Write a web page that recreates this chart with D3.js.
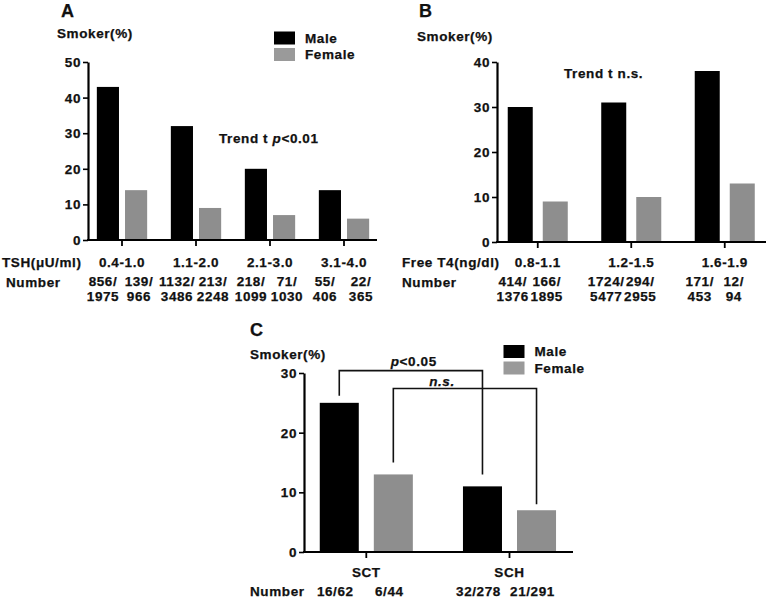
<!DOCTYPE html>
<html>
<head>
<meta charset="utf-8">
<script src="https://cdn.jsdelivr.net/npm/d3@7/dist/d3.min.js"></script>
<style>
  html, body { margin: 0; padding: 0; background: #fff; }
  svg { display: block; }
  text { font-family: "Liberation Sans", Arial, Helvetica, sans-serif; font-weight: bold; fill: #111; stroke: #111; stroke-width: 0.25px; }
</style>
</head>
<body>
<svg id="chart" width="768" height="599"></svg>
<script>
// ---------- DATA ----------
const series = ["Male", "Female"];
const seriesColors = ["#000000", "#8e8e8e"];

// Panel A
const catsA = ["0.4-1.0", "1.1-2.0", "2.1-3.0", "3.1-4.0"];
const maleA = [43, 32, 20, 14];
const femaleA = [14, 9, 7, 6];
const maleNumA = ["856/", "1132/", "218/", "55/"];
const maleDenA = ["1975", "3486", "1099", "406"];
const femaleNumA = ["139/", "213/", "71/", "22/"];
const femaleDenA = ["966", "2248", "1030", "365"];
const ticksA = [0, 10, 20, 30, 40, 50];

// Panel B
const catsB = ["0.8-1.1", "1.2-1.5", "1.6-1.9"];
const maleB = [30, 31, 38];
const femaleB = [9, 10, 13];
const maleNumB = ["414/", "1724/", "171/"];
const maleDenB = ["1376", "5477", "453"];
const femaleNumB = ["166/", "294/", "12/"];
const femaleDenB = ["1895", "2955", "94"];
const ticksB = [0, 10, 20, 30, 40];

// Panel C
const catsC = ["SCT", "SCH"];
const maleC = [25, 11];
const femaleC = [13, 7];
const maleNumC = ["16/62", "32/278"];
const femaleNumC = ["6/44", "21/291"];
const ticksC = [0, 10, 20, 30];

// ---------- DRAW ----------
const svg = d3.select("#chart");
const FS = 13.5;
const LS = "0.6px";

function txt(g, x, y, s, anchor, size, extra) {
  const t = g.append("text").attr("x", x).attr("y", y)
    .attr("text-anchor", anchor || "start")
    .attr("font-size", size || FS)
    .attr("letter-spacing", LS)
    .text(s);
  if (extra) extra(t);
  return t;
}

function panel(cfg) {
  const g = svg.append("g");
  const y = d3.scaleLinear().domain([0, cfg.yMax]).range([cfg.yBottom, cfg.yTop]);
  const x = d3.scaleBand().domain(cfg.cats).range(cfg.bandRange)
    .paddingInner(cfg.pad).paddingOuter(cfg.pad / 2);
  const xs = d3.scaleBand().domain(series).range([0, x.bandwidth()])
    .paddingInner(cfg.subPad).paddingOuter(0);

  // bars
  const rows = cfg.cats.map((c, i) => ({ cat: c, vals: [cfg.male[i], cfg.female[i]] }));
  const grp = g.selectAll("g.grp").data(rows).join("g")
    .attr("transform", d => `translate(${x(d.cat)},0)`);
  grp.selectAll("rect").data(d => d.vals.map((v, j) => ({ s: series[j], v, j }))).join("rect")
    .attr("x", d => xs(d.s))
    .attr("width", xs.bandwidth())
    .attr("y", d => y(d.v))
    .attr("height", d => y(0) - y(d.v))
    .attr("fill", d => seriesColors[d.j]);

  // y axis
  const yAxis = d3.axisLeft(y).tickValues(cfg.ticks).tickSize(5).tickPadding(2).tickSizeOuter(0);
  const ya = g.append("g").attr("transform", `translate(${cfg.axisX},0)`).call(yAxis);
  ya.select(".domain").attr("stroke", "#000").attr("stroke-width", 2.2);
  ya.selectAll(".tick line").attr("stroke", "#000").attr("stroke-width", 1.6);
  ya.selectAll(".tick text").attr("font-size", FS).attr("font-family", "Liberation Sans, Arial, sans-serif")
    .attr("font-weight", "bold").attr("fill", "#333").attr("stroke", "#333").attr("stroke-width", 0.2)
    .attr("letter-spacing", LS).attr("dy", "0.34em");

  // x axis
  const xl = d3.scaleLinear().domain([0, 1]).range([cfg.axisX, cfg.axisXEnd]);
  g.append("line").attr("x1", xl(0) - 1).attr("x2", xl(1)).attr("y1", y(0)).attr("y2", y(0))
    .attr("stroke", "#000").attr("stroke-width", 2.2);
  g.selectAll("line.xt").data(cfg.cats).join("line").attr("class", "xt")
    .attr("x1", d => x(d) + x.bandwidth() / 2).attr("x2", d => x(d) + x.bandwidth() / 2)
    .attr("y1", y(0)).attr("y2", y(0) + 6).attr("stroke", "#000").attr("stroke-width", 1.8);

  // category labels
  g.selectAll("text.cat").data(cfg.cats).join("text").attr("class", "cat")
    .attr("x", d => x(d) + x.bandwidth() / 2).attr("y", cfg.catY)
    .attr("text-anchor", "middle").attr("font-size", FS).attr("letter-spacing", LS).text(d => d);

  // number labels
  const cx = c => x(c) + x.bandwidth() / 2;
  cfg.cats.forEach((c, i) => {
    txt(g, cx(c) + cfg.mOff, cfg.numY, cfg.mNum[i], "middle");
    txt(g, cx(c) + cfg.fOff, cfg.numY, cfg.fNum[i], "middle");
    if (cfg.mDen) {
      txt(g, cx(c) + cfg.mOff, cfg.numY + 15, cfg.mDen[i], "middle");
      txt(g, cx(c) + cfg.fOff, cfg.numY + 15, cfg.fDen[i], "middle");
    }
  });
  return { g, x, xs, y };
}

// Panel A
const pA = panel({
  cats: catsA, male: maleA, female: femaleA, ticks: ticksA, yMax: 50,
  yBottom: 240, yTop: 62, axisX: 88, axisXEnd: 377,
  bandRange: [85, 381], pad: 0.32, subPad: 0.214,
  catY: 267, numY: 286, mOff: -19, fOff: 17,
  mNum: maleNumA, mDen: maleDenA, fNum: femaleNumA, fDen: femaleDenA
});
txt(svg, 61, 17, "A", "start", 18);
txt(svg, 57, 38, "Smoker(%)");
txt(svg, 2, 267, "TSH(μU/ml)");
txt(svg, 6, 287, "Number");
txt(svg, 219, 143, "Trend t ", "start", FS, t => {
  t.append("tspan").attr("font-style", "italic").text("p");
  t.append("tspan").text("<0.01");
});

// Panel B
const pB = panel({
  cats: catsB, male: maleB, female: femaleB, ticks: ticksB, yMax: 40,
  yBottom: 242, yTop: 62, axisX: 497, axisXEnd: 766,
  bandRange: [491, 771.5], pad: 0.358, subPad: 0.286,
  catY: 267, numY: 286, mOff: -25, fOff: 9,
  mNum: maleNumB, mDen: maleDenB, fNum: femaleNumB, fDen: femaleDenB
});
txt(svg, 419, 17, "B", "start", 18);
txt(svg, 417, 41, "Smoker(%)");
txt(svg, 402, 267, "Free T4(ng/dl)");
txt(svg, 402, 287, "Number");
txt(svg, 564, 78, "Trend t n.s.");

// Panel C
const pC = panel({
  cats: catsC, male: maleC, female: femaleC, ticks: ticksC, yMax: 30,
  yBottom: 552, yTop: 373, axisX: 304, axisXEnd: 573,
  bandRange: [294.7, 581.1], pad: 0.35, subPad: 0.278,
  catY: 577, numY: 596, mOff: -31, fOff: 23,
  mNum: maleNumC, fNum: femaleNumC
});
txt(svg, 250, 336, "C", "start", 18);
txt(svg, 250, 359, "Smoker(%)");
txt(svg, 250, 596, "Number");

// brackets in panel C
const brackets = [
  { s: "Male", from: "SCT", to: "SCH", level: 30.4, lb: 26.2, rb: 13.0, italicPart: "p", rest: "<0.05", labelPos: 0.52, dy: -5 },
  { s: "Female", from: "SCT", to: "SCH", level: 27.4, lb: 15.0, rb: 8.0, italicPart: "n.s.", rest: "", labelPos: 0.34, dy: -3 }
];
const bx = (cat, s) => pC.x(cat) + pC.xs(s) + pC.xs.bandwidth() / 2;
brackets.forEach(b => {
  const x1 = bx(b.from, b.s), x2 = bx(b.to, b.s);
  const path = d3.path();
  path.moveTo(x1, pC.y(b.lb));
  path.lineTo(x1, pC.y(b.level));
  path.lineTo(x2, pC.y(b.level));
  path.lineTo(x2, pC.y(b.rb));
  svg.append("path").attr("d", path.toString()).attr("fill", "none")
    .attr("stroke", "#111").attr("stroke-width", 1.6);
  const t = svg.append("text").attr("x", x1 + (x2 - x1) * b.labelPos).attr("y", pC.y(b.level) + b.dy)
    .attr("text-anchor", "middle").attr("font-size", FS).attr("letter-spacing", LS);
  t.append("tspan").attr("font-style", "italic").text(b.italicPart);
  if (b.rest) t.append("tspan").text(b.rest);
});

// legends
function legend(x0, y0) {
  const g = svg.append("g").attr("transform", `translate(${x0},${y0})`);
  const ly = d3.scalePoint().domain(series).range([0, 16.5]);
  g.selectAll("rect").data(series).join("rect")
    .attr("x", 0).attr("y", d => ly(d)).attr("width", 21).attr("height", 13)
    .attr("fill", (d, i) => i === 0 ? seriesColors[0] : "#9a9a9a");
  g.selectAll("text").data(series).join("text")
    .attr("x", 31).attr("y", d => ly(d) + 11).attr("font-size", FS).attr("letter-spacing", LS)
    .text(d => d);
}
legend(274, 31.5);
legend(503.5, 345);
</script>
</body>
</html>
